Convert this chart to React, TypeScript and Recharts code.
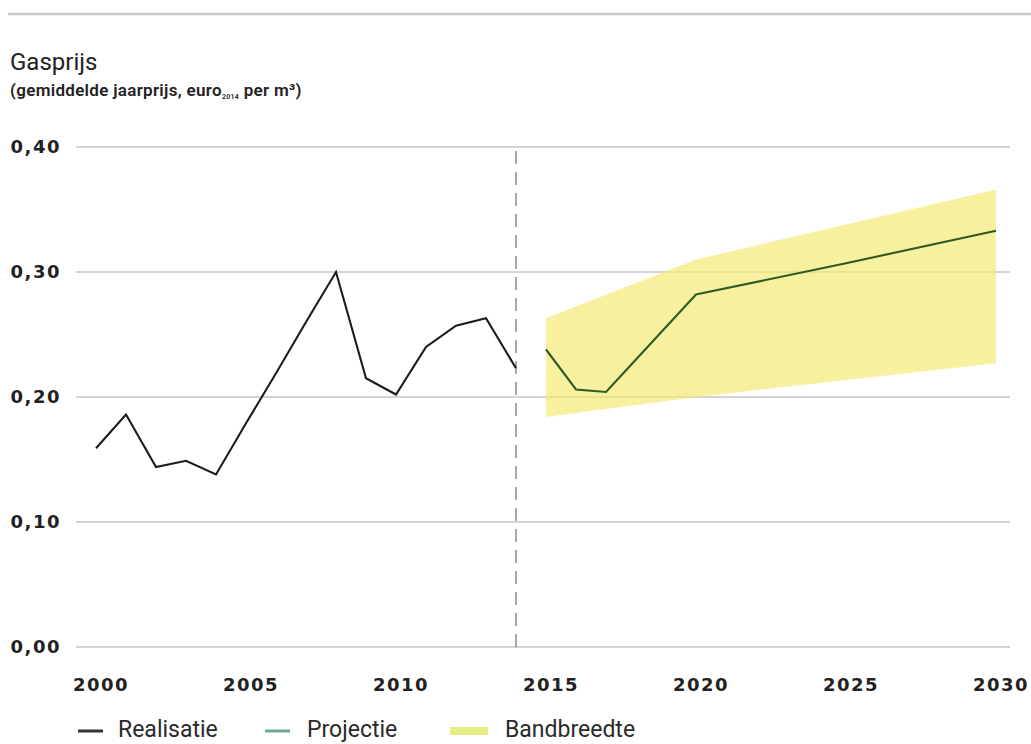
import React from 'react';
import {
  ComposedChart,
  Line,
  Area,
  XAxis,
  YAxis,
  CartesianGrid,
  ReferenceLine,
} from 'recharts';

// ---- Data ----
const realYears = [2000, 2001, 2002, 2003, 2004, 2005, 2006, 2007, 2008, 2009, 2010, 2011, 2012, 2013, 2014];
const realValues = [0.159, 0.186, 0.144, 0.149, 0.138, 0.179, 0.219, 0.260, 0.300, 0.215, 0.202, 0.240, 0.257, 0.263, 0.223];

const projYears = [2015, 2016, 2017, 2018, 2019, 2020, 2025, 2030];
const projValues = [0.238, 0.206, 0.204, 0.230, 0.256, 0.282, 0.307, 0.333];

const bandYears = [2015, 2020, 2030];
const bandLow = [0.184, 0.200, 0.227];
const bandHigh = [0.263, 0.310, 0.366];

const xTicks = [2000, 2005, 2010, 2015, 2020, 2025, 2030];
const yTicks = [0, 0.1, 0.2, 0.3, 0.4];
const dividerYear = 2014;

const title = 'Gasprijs';
const legendLabels = ['Realisatie', 'Projectie', 'Bandbreedte'];

// ---- Derived tables ----
const realData = realYears.map((year, i) => ({ year, value: realValues[i] }));
const projData = projYears.map((year, i) => ({ year, value: projValues[i] }));
const bandData = bandYears.map((year, i) => ({ year, range: [bandLow[i], bandHigh[i]] }));

const tickFont = {
  fontFamily: '"DejaVu Sans", "Noto Sans", sans-serif',
  fontSize: 18,
  fontWeight: 600,
  fill: '#222',
  letterSpacing: 1.5,
};

const W = 1031;
const H = 744;
const legendFont = 'Roboto, sans-serif';

export default function App() {
  return (
    <div style={{ position: 'absolute', left: 0, top: 0, width: W, height: H, background: '#fff' }}>
      <ComposedChart
        width={W}
        height={H}
        margin={{ top: 147, right: 21, bottom: 57, left: 0 }}
        style={{ position: 'absolute', left: 0, top: 0 }}
      >
        <CartesianGrid vertical={false} stroke="#c6c6c6" strokeWidth={1.5} />
        <XAxis
          dataKey="year"
          type="number"
          domain={[1999.333, 2030.467]}
          ticks={xTicks}
          axisLine={false}
          tickLine={false}
          tickSize={0}
          tickMargin={31}
          height={40}
          interval={0}
          allowDataOverflow
          tick={{ ...tickFont, dx: 5 }}
        />
        <YAxis
          type="number"
          domain={[0, 0.4]}
          ticks={yTicks}
          axisLine={false}
          tickLine={false}
          tickSize={0}
          tickMargin={15}
          width={76}
          interval={0}
          allowDataOverflow
          tick={tickFont}
          tickFormatter={(v: number) => v.toFixed(2).replace('.', ',')}
        />
        <ReferenceLine x={dividerYear} stroke="#8c8c8c" strokeWidth={1.5} strokeDasharray="13 8" />
        <Area
          data={bandData}
          dataKey="range"
          type="linear"
          stroke="none"
          fill="#f3eb72"
          fillOpacity={0.68}
          isAnimationActive={false}
          name={legendLabels[2]}
        />
        <Line
          data={realData}
          dataKey="value"
          type="linear"
          stroke="#1c1c1c"
          strokeWidth={2.1}
          dot={false}
          isAnimationActive={false}
          name={legendLabels[0]}
        />
        <Line
          data={projData}
          dataKey="value"
          type="linear"
          stroke="#2f5a26"
          strokeWidth={2.1}
          dot={false}
          isAnimationActive={false}
          name={legendLabels[1]}
        />
      </ComposedChart>
      <svg
        width={W}
        height={H}
        style={{ position: 'absolute', left: 0, top: 0, pointerEvents: 'none' }}
      >
        <line x1={8} x2={W} y1={14} y2={14} stroke="#c8c8c8" strokeWidth={2.5} />
        <text x={10} y={70} fontFamily={legendFont} fontSize={24} fontWeight={400} fill="#222">
          {title}
        </text>
        <text x={10} y={96} fontFamily={legendFont} fontSize={17} fontWeight={600} fill="#222" letterSpacing={0.3}>
          (gemiddelde jaarprijs, euro
          <tspan fontSize={7} dy={3}>2014</tspan>
          <tspan dy={-3}> per m³)</tspan>
        </text>
        {/* Legend */}
        <line x1={78} x2={103} y1={731} y2={731} stroke="#333" strokeWidth={3} />
        <text x={118} y={737} fontFamily={legendFont} fontSize={23} fill="#2a2a2a">
          {legendLabels[0]}
        </text>
        <line x1={265} x2={290} y1={731} y2={731} stroke="#6fa796" strokeWidth={3} />
        <text x={307} y={737} fontFamily={legendFont} fontSize={23} fill="#2a2a2a">
          {legendLabels[1]}
        </text>
        <rect x={450} y={727} width={38} height={8} fill="#e9eb85" />
        <text x={505} y={737} fontFamily={legendFont} fontSize={23} fill="#2a2a2a">
          {legendLabels[2]}
        </text>
      </svg>
    </div>
  );
}
